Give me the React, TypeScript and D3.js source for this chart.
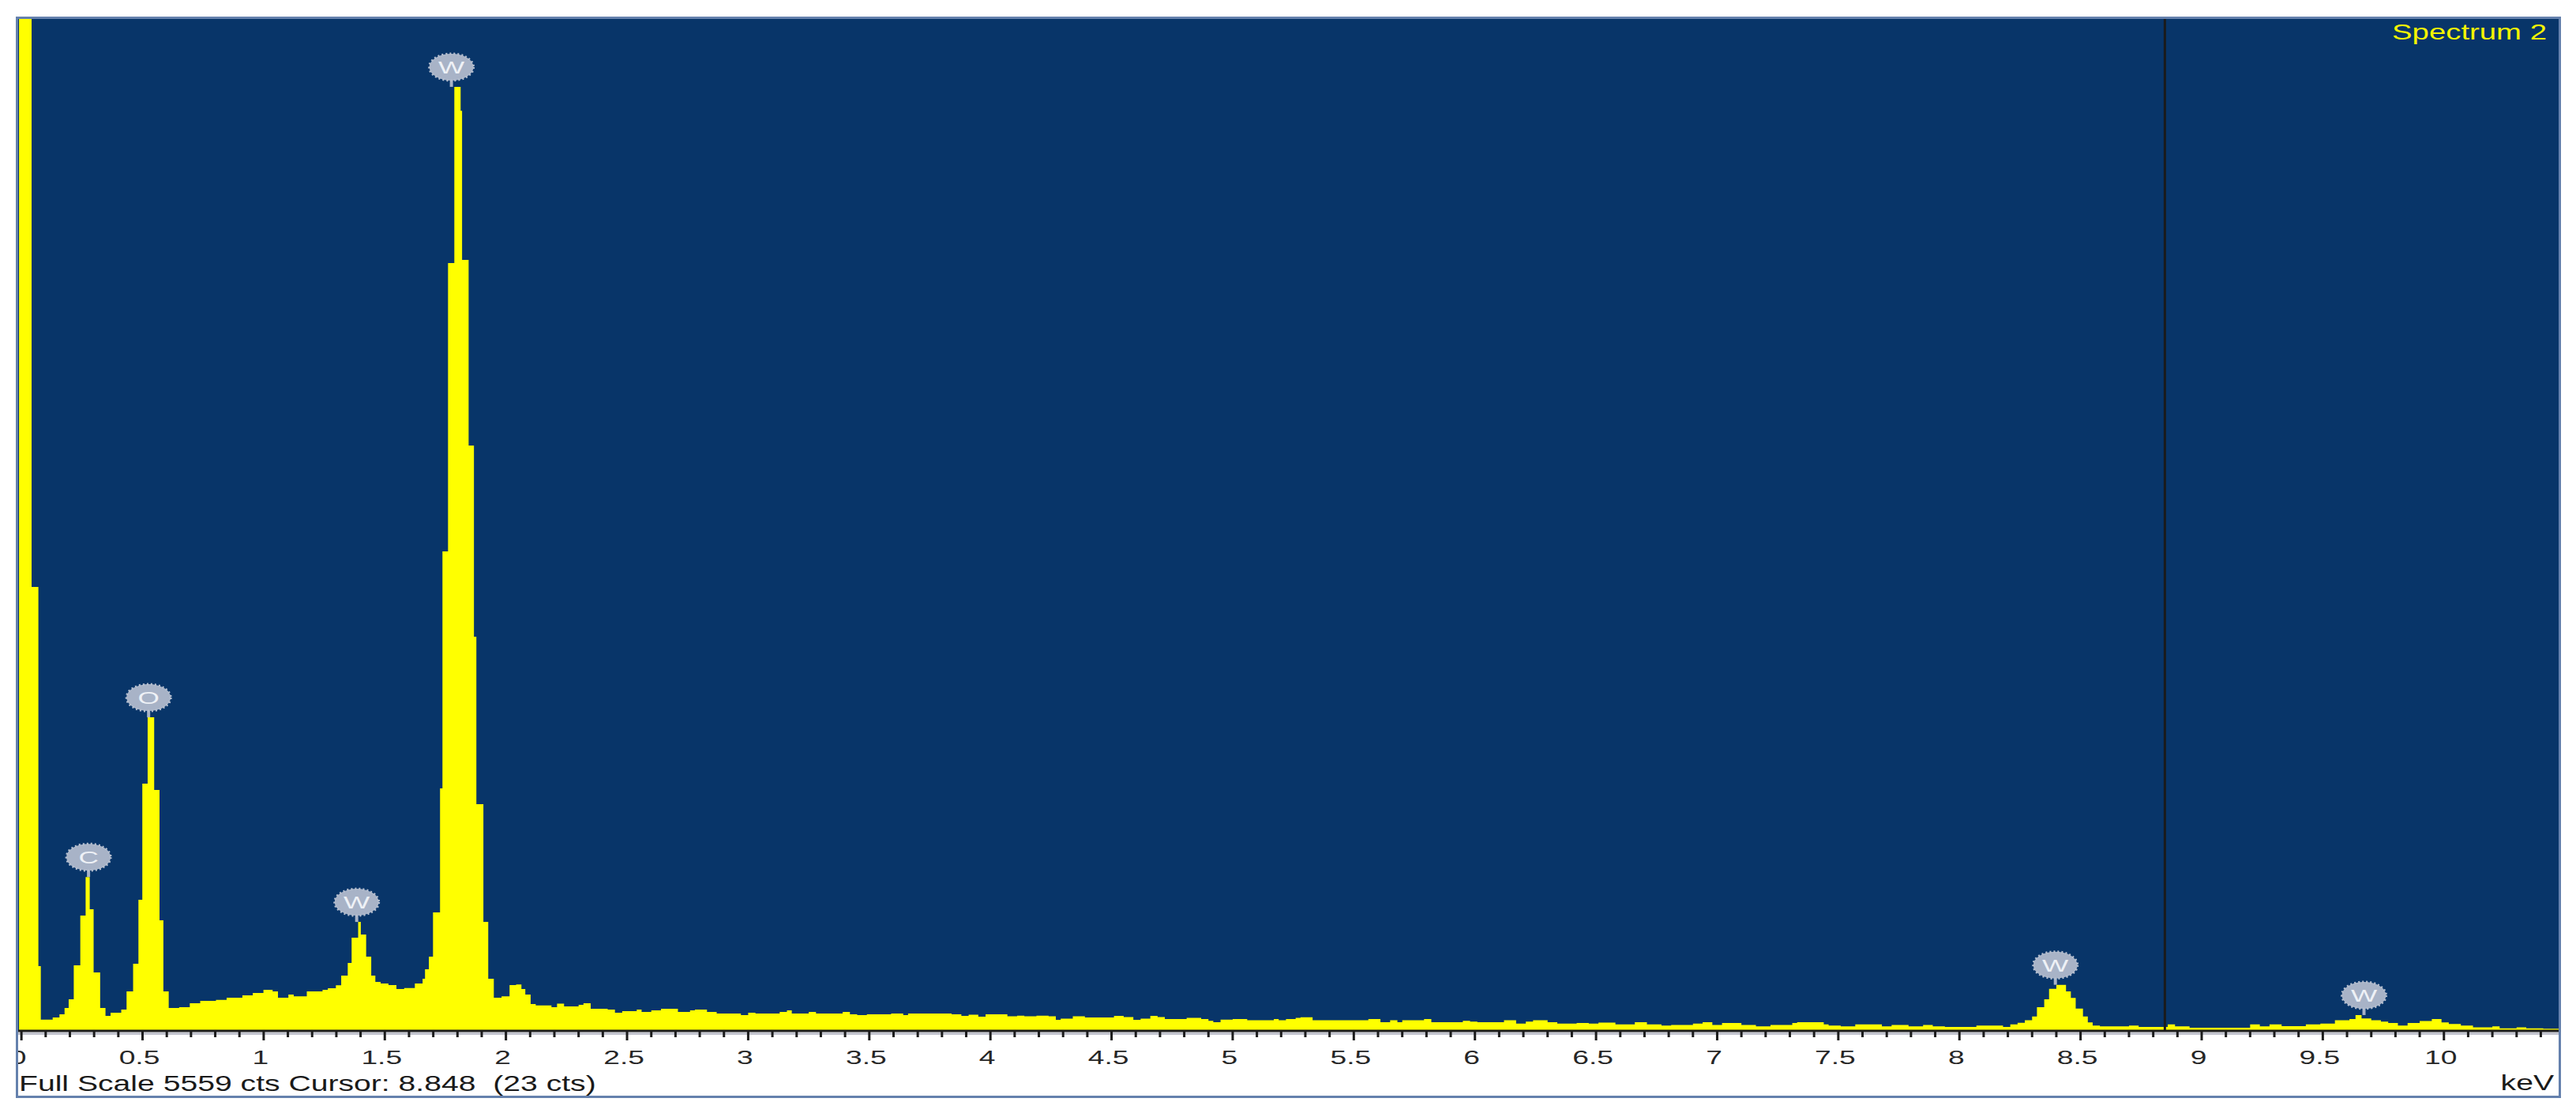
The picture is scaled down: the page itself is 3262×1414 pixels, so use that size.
import React from "react";
import * as d3 from "d3";

const WIDTH = 3262;
const HEIGHT = 1414;
const MARGIN = { top: 23, right: 21, bottom: 109, left: 22 };

const FULL_SCALE = 5559;
const CURSOR_KEV = 8.848;
const CURSOR_CTS = 23;
const SPECTRUM_NAME = "Spectrum 2";
const KEV_MIN = -0.02;
const KEV_MAX = 10.48;

// spectrum as steps: [keV where the step starts, counts]
const lightElements: [number, number][] = [
  [-0.01, 6000], [0.042, 2437], [0.07, 356], [0.08, 62], [0.129, 74], [0.157, 91],
  [0.178, 126], [0.195, 173], [0.216, 360], [0.243, 633], [0.265, 845], [0.282, 668],
  [0.298, 321], [0.325, 126], [0.347, 82], [0.368, 100], [0.412, 117], [0.434, 217],
  [0.461, 369], [0.483, 720], [0.499, 1357], [0.521, 1721], [0.548, 1322], [0.57, 607],
  [0.586, 217], [0.608, 126], [0.651, 130], [0.695, 152], [0.738, 165], [0.803, 170],
  [0.847, 182], [0.912, 195], [0.955, 208], [0.999, 225],
];

const wMLines: [number, number][] = [
  [1.037, 217], [1.059, 182], [1.102, 200], [1.124, 190], [1.178, 217], [1.243, 225],
  [1.265, 234], [1.298, 250], [1.32, 303], [1.347, 373], [1.363, 512], [1.39, 598],
  [1.401, 529], [1.423, 408], [1.444, 303], [1.461, 269], [1.483, 260], [1.515, 251],
  [1.548, 230], [1.58, 235], [1.624, 260], [1.656, 286], [1.666, 338], [1.682, 408],
  [1.699, 650], [1.728, 1331], [1.738, 2632], [1.761, 4215], [1.787, 5182], [1.813, 5051],
  [1.819, 4232], [1.846, 3213], [1.868, 2164], [1.878, 1244], [1.907, 598], [1.927, 286],
  [1.95, 182], [1.982, 190], [2.015, 251], [2.042, 255], [2.064, 230], [2.08, 199],
  [2.102, 147], [2.123, 140], [2.188, 130], [2.211, 150],
];

const midBackground: [number, number][] = [
  [2.24, 134], [2.3, 143], [2.32, 152], [2.35, 121], [2.42, 117], [2.45, 100], [2.48, 108],
  [2.54, 117], [2.56, 104], [2.6, 113], [2.64, 121], [2.71, 104], [2.76, 113], [2.78, 117],
  [2.83, 104], [2.87, 95], [2.97, 87], [3.0, 100], [3.03, 95], [3.13, 104], [3.16, 113],
  [3.18, 95], [3.25, 104], [3.28, 95], [3.39, 104], [3.42, 91], [3.45, 87], [3.49, 91],
  [3.59, 95], [3.64, 87], [3.66, 95], [3.84, 91], [3.88, 82], [3.91, 89], [3.95, 78],
  [3.98, 91], [4.07, 80], [4.11, 84], [4.14, 80], [4.19, 84], [4.24, 80], [4.27, 61],
  [4.29, 67], [4.34, 80], [4.39, 74], [4.51, 82], [4.55, 76], [4.59, 61], [4.62, 67],
  [4.66, 82], [4.69, 76], [4.72, 65], [4.81, 72],
];

const highBackground: [number, number][] = [
  [4.87, 65], [4.9, 55], [4.92, 48], [4.95, 62], [5.0, 65], [5.06, 58], [5.17, 65],
  [5.19, 58], [5.22, 65], [5.26, 72], [5.28, 75], [5.33, 58], [5.56, 65], [5.61, 48],
  [5.65, 58], [5.68, 48], [5.7, 58], [5.79, 65], [5.82, 48], [5.95, 55], [5.98, 51],
  [6.01, 48], [6.12, 58], [6.17, 40], [6.21, 51], [6.24, 58], [6.3, 48], [6.34, 40],
  [6.42, 43], [6.47, 40], [6.51, 46], [6.58, 36], [6.66, 48], [6.71, 36], [6.77, 29],
  [6.81, 33], [6.9, 40], [6.94, 48], [6.98, 33], [7.02, 43], [7.1, 33], [7.16, 25],
  [7.22, 33], [7.31, 43], [7.33, 48], [7.44, 36], [7.46, 29], [7.51, 25], [7.57, 36],
  [7.68, 25], [7.72, 33], [7.79, 25], [7.85, 33], [7.89, 25], [7.94, 22],
];

const wLLines: [number, number][] = [
  [8.07, 29], [8.18, 22], [8.21, 36], [8.24, 44], [8.27, 58], [8.3, 79], [8.32, 130],
  [8.35, 173], [8.37, 231], [8.4, 253], [8.44, 217], [8.46, 181], [8.48, 123], [8.51, 79],
  [8.53, 47], [8.55, 29], [8.58, 25], [8.7, 29], [8.74, 22], [8.86, 36], [8.89, 25],
  [8.95, 17], [9.2, 36], [9.24, 25], [9.28, 36], [9.33, 26], [9.43, 36], [9.49, 40],
  [9.55, 58], [9.61, 65], [9.635, 87], [9.66, 68], [9.7, 58], [9.74, 51], [9.77, 43],
  [9.81, 29], [9.85, 43], [9.9, 54], [9.95, 65], [9.99, 47], [10.02, 38], [10.07, 29],
  [10.12, 19], [10.2, 25], [10.23, 14], [10.3, 19], [10.34, 14], [10.41, 12],
];

const peakLabels = [
  { el: "C", kev: 0.277 },
  { el: "O", kev: 0.525 },
  { el: "W", kev: 1.384 },
  { el: "W", kev: 1.775 },
  { el: "W", kev: 8.396 },
  { el: "W", kev: 9.67 },
];

const tickLabels = ["0", "0.5", "1", "1.5", "2", "2.5", "3", "3.5", "4", "4.5", "5",
  "5.5", "6", "6.5", "7", "7.5", "8", "8.5", "9", "9.5", "10"];

const FONT = "'Liberation Sans', Arial, sans-serif";
const NAVY = "#083569";
const YELLOW = "#ffff00";
const MARKER = "#a8b3c7";

const spectrum = [...lightElements, ...wMLines, ...midBackground, ...highBackground, ...wLLines];
const stepped: [number, number][] = [...spectrum, [KEV_MAX, spectrum[spectrum.length - 1][1]]];

// the screenshot is stretched sideways, so text gets the same stretch
const Stretched = ({ x, y, sx = 1.45, size = 27, anchor = "start", fill = "#1a1a1a", children }: any) => (
  <text
    transform={`translate(${x},${y}) scale(${sx},1)`}
    textAnchor={anchor}
    fontSize={size}
    fontFamily={FONT}
    fill={fill}
    style={{ whiteSpace: "pre" }}
  >
    {children}
  </text>
);

export default function App() {
  const x0 = MARGIN.left;
  const x1 = WIDTH - MARGIN.right;
  const yTop = MARGIN.top;
  const yBase = HEIGHT - MARGIN.bottom;

  const xScale = d3.scaleLinear().domain([KEV_MIN, KEV_MAX]).range([21, 3242]);
  const yScale = d3.scaleLinear().domain([0, FULL_SCALE]).range([yBase, yTop]);

  const area = d3
    .area<[number, number]>()
    .x((d) => xScale(d[0]))
    .y0(yScale(0))
    .y1((d) => yScale(d[1]))
    .curve(d3.curveStepAfter);

  const peakCounts = (kev: number) => {
    let m = 0;
    for (let i = 0; i < spectrum.length; i++) {
      const s = spectrum[i][0];
      const e = i + 1 < spectrum.length ? spectrum[i + 1][0] : KEV_MAX;
      if (s < kev + 0.02 && e > kev - 0.02) m = Math.max(m, spectrum[i][1]);
    }
    return m;
  };

  const minorTicks = d3.range(0, 105).map((i) => i / 10);
  const majorTicks = tickLabels.map((t) => +t);

  return (
    <>
      <style>{"body{margin:0}"}</style>
      <svg width={WIDTH} height={HEIGHT} style={{ display: "block", background: "#fff" }}>
        <defs>
          <clipPath id="plot-clip">
            <rect x={x0} y={yTop} width={x1 - x0} height={yBase - yTop} />
          </clipPath>
          <clipPath id="frame-clip">
            <rect x={x0 + 1} y={yTop} width={x1 - x0 - 1} height={HEIGHT - yTop} />
          </clipPath>
        </defs>

        <rect x={x0} y={yTop} width={x1 - x0} height={yBase - yTop} fill={NAVY} />

        <g clipPath="url(#plot-clip)">
          <path d={area(stepped) ?? ""} fill={YELLOW} />
          <line
            x1={xScale(CURSOR_KEV)}
            x2={xScale(CURSOR_KEV)}
            y1={yTop}
            y2={yBase}
            stroke="#1b1b1b"
            strokeWidth={3}
          />
        </g>

        {peakLabels.map((p, i) => {
          const cx = xScale(p.kev);
          const top = yScale(peakCounts(p.kev));
          const cy = top - 25;
          return (
            <g key={i}>
              <line x1={cx} x2={cx} y1={cy + 14} y2={top} stroke={MARKER} strokeWidth={4} />
              <ellipse cx={cx} cy={cy} rx={28} ry={17} fill={MARKER} />
              <ellipse
                cx={cx}
                cy={cy}
                rx={28}
                ry={17}
                fill="none"
                stroke="#b7c0d0"
                strokeWidth={3}
                strokeDasharray="2 3"
              />
              <Stretched x={cx} y={cy + 8} sx={1.6} size={22} anchor="middle" fill="#eef1f6">
                {p.el}
              </Stretched>
            </g>
          );
        })}

        <Stretched x={3225} y={50} sx={1.42} size={27} anchor="end" fill="#f4f400">
          {SPECTRUM_NAME}
        </Stretched>

        {/* x axis */}
        <rect x={x0} y={yBase + 2} width={x1 - x0} height={3} fill="#c3c5cf" />
        <line x1={x0} x2={x1} y1={yBase} y2={yBase} stroke="#1c1c1c" strokeWidth={3} />
        {minorTicks.map((t) => {
          const major = Math.abs(t * 2 - Math.round(t * 2)) < 1e-6;
          return (
            <line
              key={t}
              x1={xScale(t)}
              x2={xScale(t)}
              y1={yBase}
              y2={yBase + (major ? 12 : 8)}
              stroke="#1c1c1c"
              strokeWidth={3}
            />
          );
        })}
        <g clipPath="url(#frame-clip)">
          {majorTicks.map((t, i) => (
            <Stretched key={t} x={xScale(t) - 4} y={1347} sx={1.55} size={24} anchor="middle" fill="#262626">
              {tickLabels[i]}
            </Stretched>
          ))}
        </g>

        <Stretched x={24} y={1381} sx={1.45} size={27}>
          {`Full Scale ${FULL_SCALE} cts Cursor: ${CURSOR_KEV.toFixed(3)}  (${CURSOR_CTS} cts)`}
        </Stretched>
        <Stretched x={3234} y={1380} sx={1.45} size={27} anchor="end">
          keV
        </Stretched>

        <rect
          x={21.5}
          y={22.5}
          width={3220}
          height={1366}
          fill="none"
          stroke="#6581ad"
          strokeWidth={3}
        />
      </svg>
    </>
  );
}
